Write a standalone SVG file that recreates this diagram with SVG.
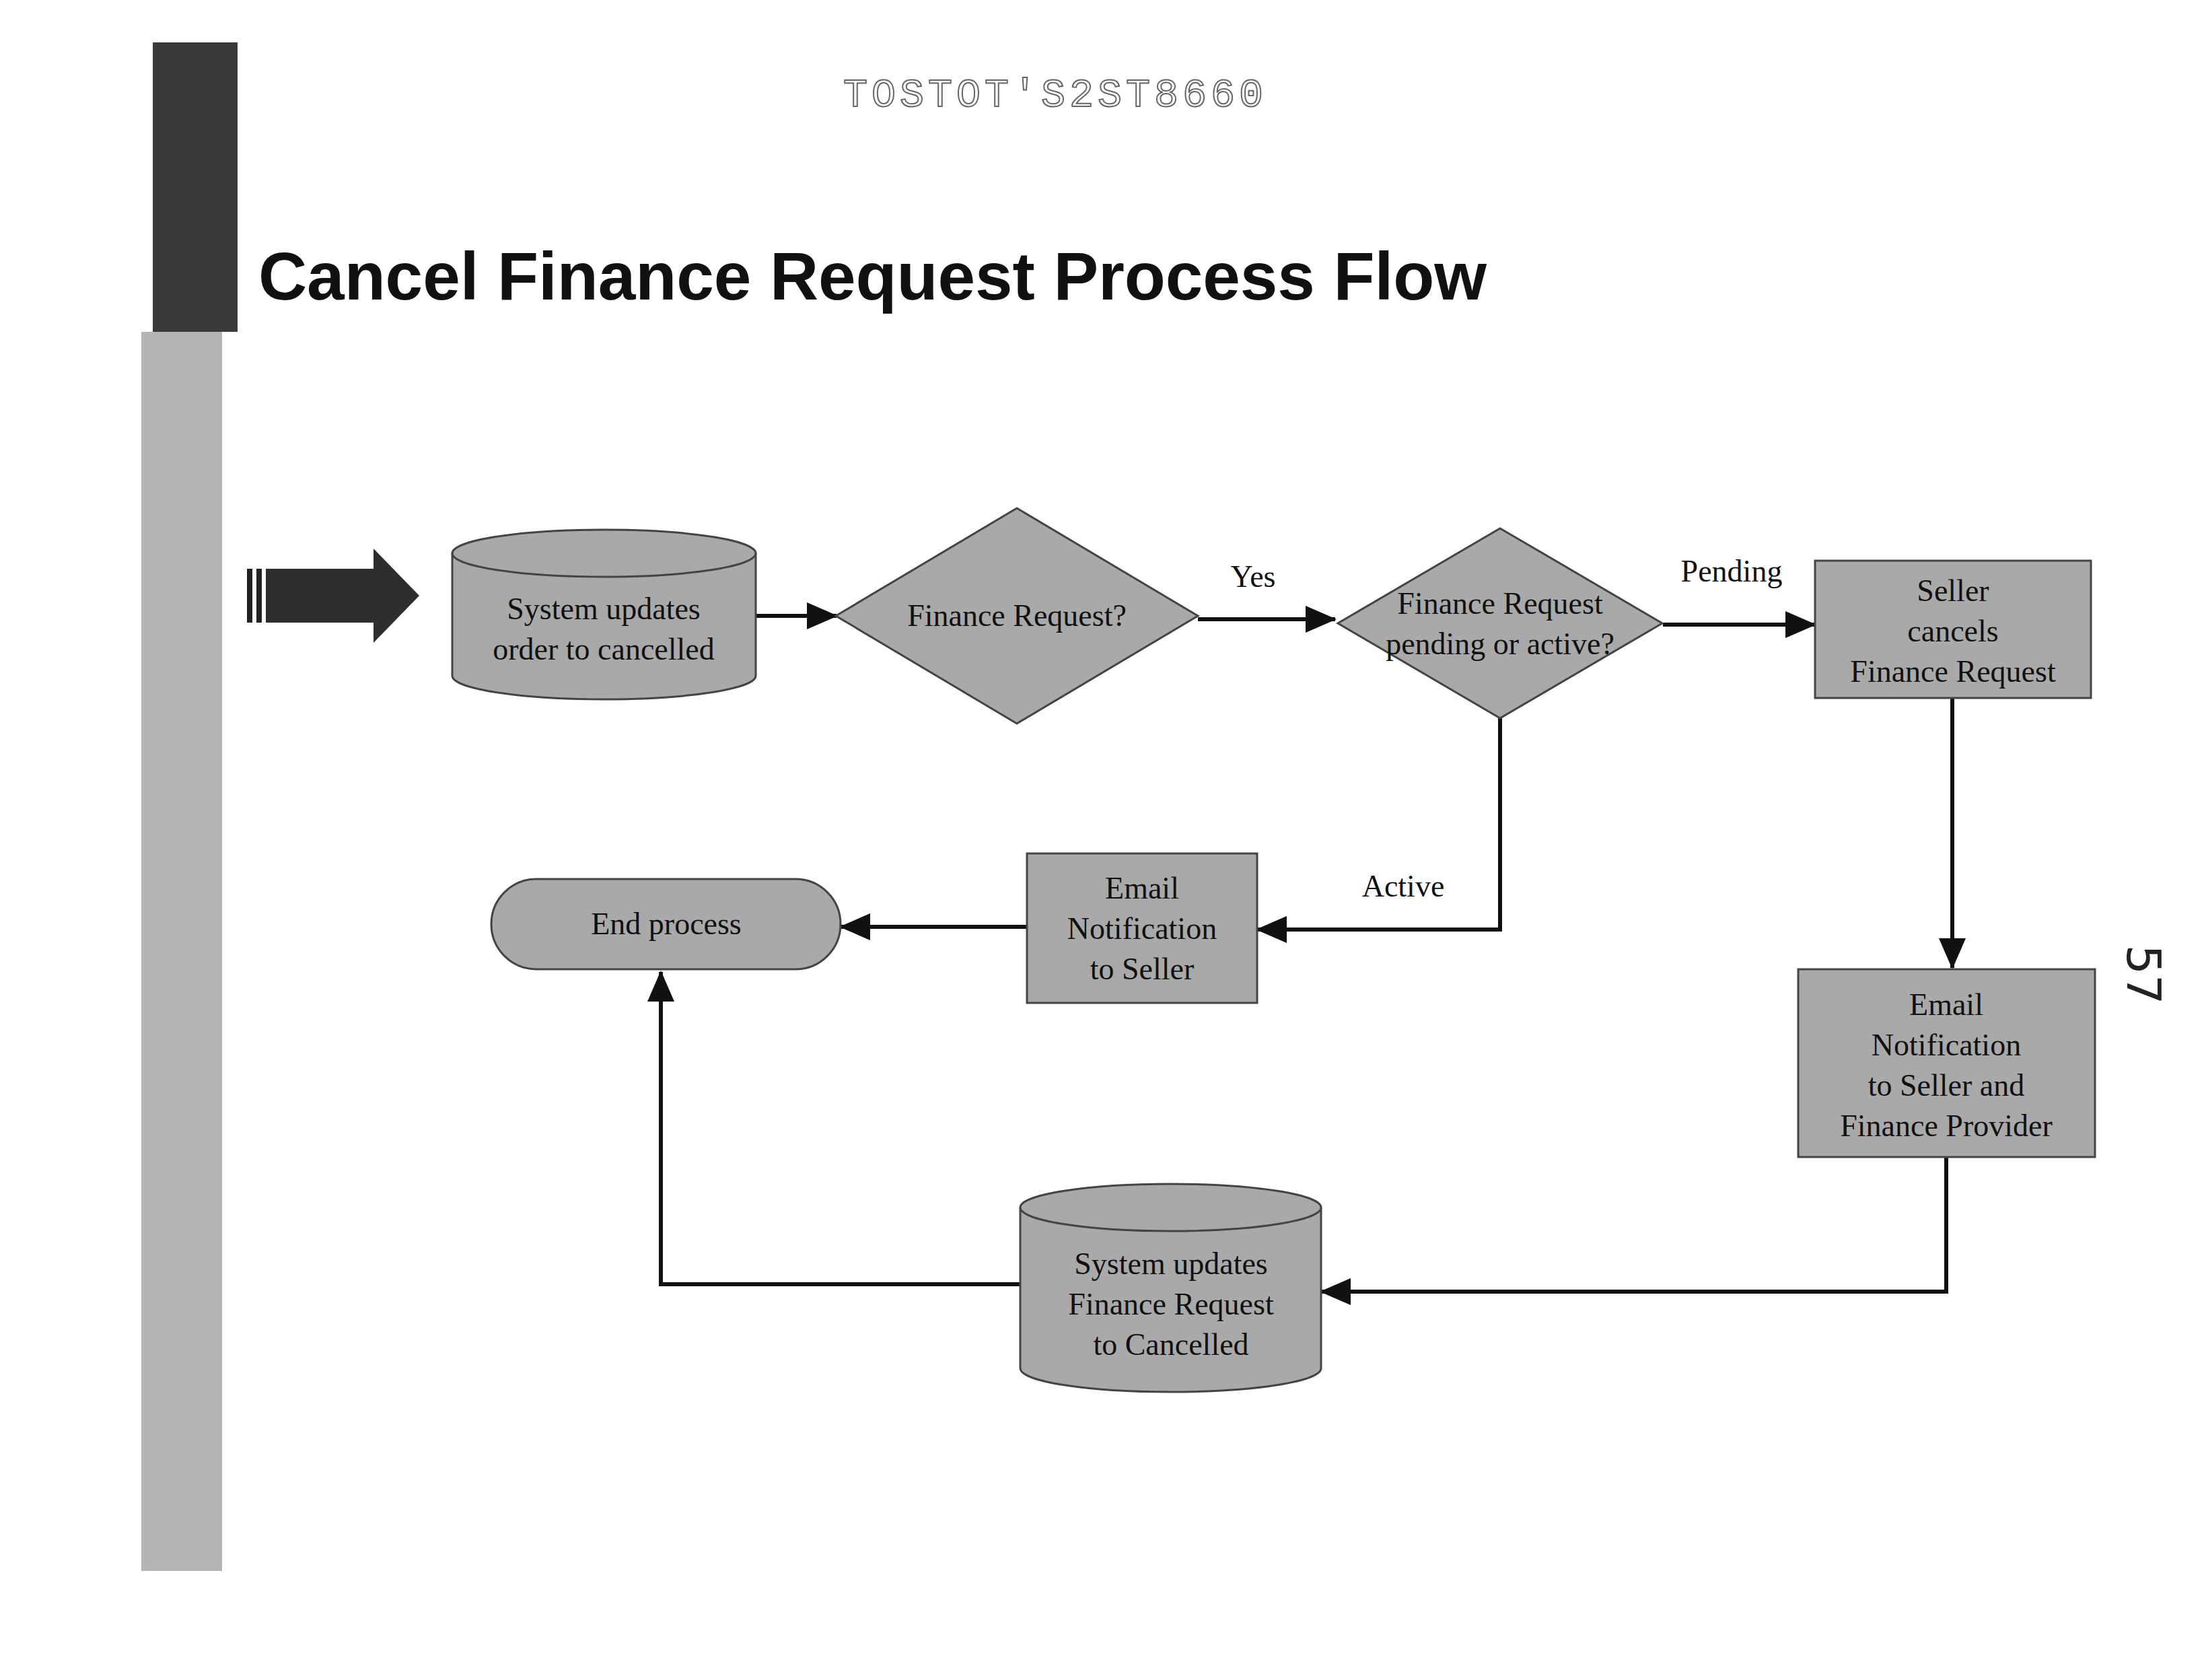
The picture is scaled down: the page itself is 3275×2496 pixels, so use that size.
<svg xmlns="http://www.w3.org/2000/svg" width="3275" height="2496" viewBox="0 0 3275 2496">
<defs>
<style>
.shape{fill:#a9a9a9;stroke:#444;stroke-width:3}
.t{font-family:"Liberation Serif",serif;font-size:46px;fill:#111;text-anchor:middle}
.lbl{font-family:"Liberation Serif",serif;font-size:46px;fill:#111;text-anchor:middle}
.c{fill:none;stroke:#111;stroke-width:6}
</style>
<marker id="a" markerWidth="46" markerHeight="40" refX="44" refY="20" orient="auto" markerUnits="userSpaceOnUse">
<path d="M0,0 L46,20 L0,40 z" fill="#111"/>
</marker>
</defs>
<rect width="3275" height="2496" fill="#fff"/>
<g id="sidebar">
<rect x="227" y="63" width="126" height="430" fill="#3a3a3a"/>
<rect x="210" y="493" width="120" height="1841" fill="#b5b5b5"/>
</g>
<text x="1568" y="158" font-family="Liberation Mono,monospace" font-size="60" fill="#fff" stroke="#666" stroke-width="2" text-anchor="middle" letter-spacing="6">TOSTOT'S2ST8660</text>
<text x="384" y="445" font-family="Liberation Sans,sans-serif" font-weight="bold" font-size="100" fill="#111" textLength="1825">Cancel Finance Request Process Flow</text>
<g id="start-arrow">
<rect x="367" y="845" width="8" height="80" fill="#222"/>
<rect x="381" y="845" width="8" height="80" fill="#222"/>
<path d="M395,845 H555 V815 L623,885 L555,955 V925 H395 Z" fill="#2e2e2e"/>
</g>
<g id="connectors">
<path class="c" d="M1123,915 H1243" marker-end="url(#a)"/>
<path class="c" d="M1780,920 H1984" marker-end="url(#a)"/>
<path class="c" d="M2471,928 H2697" marker-end="url(#a)"/>
<path class="c" d="M2901,1037 V1438" marker-end="url(#a)"/>
<path class="c" d="M2892,1719 V1919 H1963" marker-end="url(#a)"/>
<path class="c" d="M1516,1908 H982 V1444" marker-end="url(#a)"/>
<path class="c" d="M2229,1066 V1381 H1868" marker-end="url(#a)"/>
<path class="c" d="M1526,1377 H1249" marker-end="url(#a)"/>
<text class="lbl" x="1862" y="872">Yes</text>
<text class="lbl" x="2573" y="864">Pending</text>
<text class="lbl" x="2085" y="1332">Active</text>
</g>
<g id="cyl1">
<path class="shape" d="M672,822 V1004 A225.5,35 0 0 0 1123,1004 V822"/>
<ellipse class="shape" cx="897.5" cy="822" rx="225.5" ry="35"/>
<text class="t" x="897" y="920">System updates</text>
<text class="t" x="897" y="980">order to cancelled</text>
</g>
<g id="d1">
<polygon class="shape" points="1511,755 1780,915 1511,1075 1242,915"/>
<text class="t" x="1511" y="930">Finance Request?</text>
</g>
<g id="d2">
<polygon class="shape" points="2229,785 2470,926 2229,1067 1988,926"/>
<text class="t" x="2229" y="912">Finance Request</text>
<text class="t" x="2229" y="972">pending or active?</text>
</g>
<g id="seller">
<rect class="shape" x="2697" y="833" width="410" height="204"/>
<text class="t" x="2902" y="893">Seller</text>
<text class="t" x="2902" y="953">cancels</text>
<text class="t" x="2902" y="1013">Finance Request</text>
</g>
<g id="email2">
<rect class="shape" x="2672" y="1440" width="441" height="279"/>
<text class="t" x="2892" y="1508">Email</text>
<text class="t" x="2892" y="1568">Notification</text>
<text class="t" x="2892" y="1628">to Seller and</text>
<text class="t" x="2892" y="1688">Finance Provider</text>
</g>
<g id="cyl2">
<path class="shape" d="M1516,1794 V2033 A223.5,35 0 0 0 1963,2033 V1794"/>
<ellipse class="shape" cx="1739.5" cy="1794" rx="223.5" ry="35"/>
<text class="t" x="1740" y="1893">System updates</text>
<text class="t" x="1740" y="1953">Finance Request</text>
<text class="t" x="1740" y="2013">to Cancelled</text>
</g>
<g id="email1">
<rect class="shape" x="1526" y="1268" width="342" height="222"/>
<text class="t" x="1697" y="1335">Email</text>
<text class="t" x="1697" y="1395">Notification</text>
<text class="t" x="1697" y="1455">to Seller</text>
</g>
<g id="end">
<rect class="shape" x="730" y="1306" width="519" height="134" rx="67" ry="67"/>
<text class="t" x="990" y="1388">End process</text>
</g>
<text x="3185" y="1448" font-family="DejaVu Sans,sans-serif" font-size="70" fill="#222" text-anchor="middle" dominant-baseline="central" transform="rotate(90 3185 1448)">57</text>
</svg>
